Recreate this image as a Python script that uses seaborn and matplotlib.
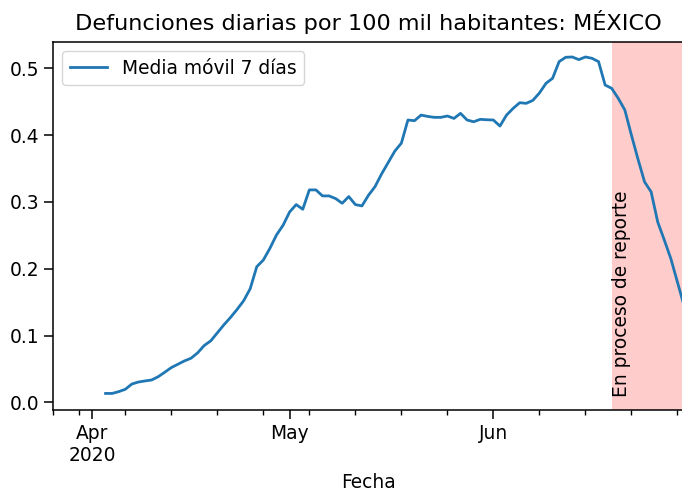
import numpy as np
import pandas as pd
import matplotlib
matplotlib.use("Agg")
import matplotlib.pyplot as plt
import matplotlib.dates as mdates
import seaborn as sns

# ---- data ----
start_date = "2020-04-03"
media_movil = [
    0.0133, 0.0133, 0.016, 0.0195, 0.0274, 0.0304, 0.032, 0.0334, 0.0383, 0.045,   # Apr 3-12
    0.052, 0.057, 0.062, 0.066, 0.074, 0.085, 0.092, 0.104, 0.116, 0.127,          # Apr 13-22
    0.139, 0.152, 0.170, 0.203, 0.213, 0.2305, 0.2505, 0.265, 0.285, 0.296,        # Apr 23-May 2
    0.289, 0.318, 0.318, 0.309, 0.309, 0.305, 0.298, 0.308, 0.296, 0.294,          # May 3-12
    0.310, 0.323, 0.342, 0.359, 0.376, 0.388, 0.4226, 0.4216, 0.430, 0.428,        # May 13-22
    0.4266, 0.4266, 0.4286, 0.425, 0.4326, 0.4226, 0.420, 0.4236, 0.423, 0.4226,   # May 23-Jun 1
    0.4136, 0.430, 0.440, 0.4485, 0.4476, 0.452, 0.463, 0.4775, 0.485, 0.510,      # Jun 2-11
    0.5165, 0.517, 0.513, 0.517, 0.515, 0.510, 0.475, 0.470, 0.455, 0.4376,        # Jun 12-21
    0.400, 0.364, 0.330, 0.315, 0.270, 0.243, 0.215, 0.180, 0.145,                 # Jun 22-30
]
x_start, x_end = "2020-03-26", "2020-06-30"
reporte_inicio = "2020-06-19"
major_ticks = ["2020-04-01", "2020-05-01", "2020-06-01"]
major_labels = ["Apr\n2020", "May", "Jun"]
title = "Defunciones diarias por 100 mil habitantes: MÉXICO"
xlabel = "Fecha"
legend_label = "Media móvil 7 días"
span_text = "En proceso de reporte"

fechas = pd.date_range(start_date, periods=len(media_movil), freq="D")
df = pd.DataFrame({"Fecha": fechas, "valor": media_movil})

# ---- figure ----
plt.rcParams["font.family"] = ["DejaVu Sans"]
fs = 13.4
fig = plt.figure(figsize=(6.82, 4.95), dpi=100)
ax = fig.add_axes([53 / 682, 85 / 495, 631 / 682, 368 / 495])

sns.lineplot(data=df, x="Fecha", y="valor", ax=ax, color="#1f77b4",
             linewidth=2.0, label=legend_label)

ax.axvspan(pd.Timestamp(reporte_inicio), pd.Timestamp(x_end), color="red",
           alpha=0.2, linewidth=0)
ax.text(pd.Timestamp(reporte_inicio), 0.008, span_text, rotation=90,
        ha="left", va="bottom", fontsize=fs)

ax.set_xlim(pd.Timestamp(x_start), pd.Timestamp(x_end))
ax.set_ylim(-0.0115, 0.5394)
ax.set_yticks([0.0, 0.1, 0.2, 0.3, 0.4, 0.5])
ax.set_yticklabels(["0.0", "0.1", "0.2", "0.3", "0.4", "0.5"])

ax.set_xticks([pd.Timestamp(t) for t in major_ticks])
ax.set_xticklabels(major_labels)
minor = [pd.Timestamp(x_start)] + list(pd.date_range("2020-03-30", "2020-06-29", freq="W-MON"))
ax.xaxis.set_minor_locator(matplotlib.ticker.FixedLocator(mdates.date2num(minor)))

ax.tick_params(axis="both", which="major", labelsize=fs, length=6.5, width=1.1)
ax.tick_params(axis="x", which="minor", length=3.8, width=1.0)
for s in ax.spines.values():
    s.set_linewidth(1.1)

ax.set_xlabel(xlabel, fontsize=fs, labelpad=6)
ax.set_ylabel("")
ax.set_title(title, fontsize=fs * 1.2, pad=9)
ax.legend(loc="upper left", fontsize=fs, frameon=True)

fig.savefig("out.png", dpi=100)
